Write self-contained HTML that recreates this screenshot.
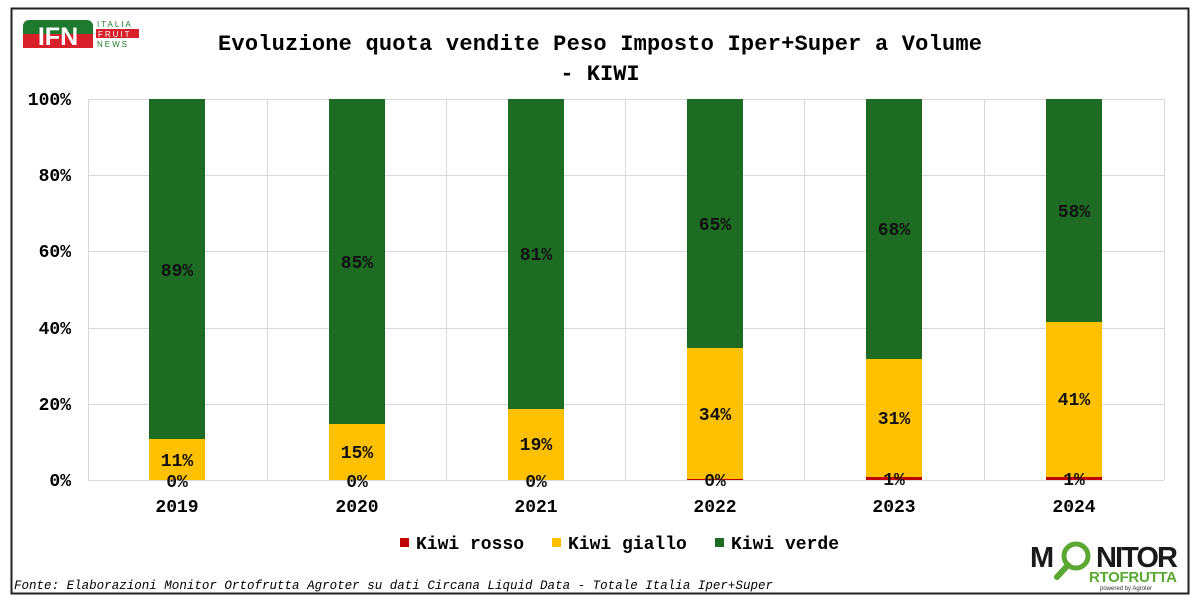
<!DOCTYPE html>
<html><head><meta charset="utf-8"><style>
html,body{margin:0;padding:0;background:#fff;}
svg{display:block;font-family:"Liberation Mono",monospace;}
</style></head><body>
<svg width="1200" height="604" viewBox="0 0 1200 604" xmlns="http://www.w3.org/2000/svg">
<rect x="0" y="0" width="1200" height="604" fill="#fff"/>
<rect x="11.5" y="8.5" width="1177" height="585" fill="none" stroke="#222" stroke-width="2"/>
<!-- IFN logo -->
<rect x="23" y="20" width="70" height="28" rx="6" fill="#1e7a2e"/>
<rect x="23" y="34" width="70" height="14" fill="#d8202a"/>
<text x="58" y="45" font-family="Liberation Sans,sans-serif" font-weight="bold" font-size="25" fill="#fff" text-anchor="middle">IFN</text>
<text x="97" y="27" font-family="Liberation Sans,sans-serif" font-size="8" fill="#1e7a2e" letter-spacing="2">ITALIA</text>
<rect x="96" y="29" width="43" height="9" fill="#d8202a"/>
<text x="98" y="37" font-family="Liberation Sans,sans-serif" font-size="8" fill="#fff" letter-spacing="2">FRUIT</text>
<text x="97" y="47" font-family="Liberation Sans,sans-serif" font-size="8" fill="#1e7a2e" letter-spacing="2">NEWS</text>
<!-- title -->
<text x="600" y="50" font-size="22" font-weight="bold" text-anchor="middle" textLength="764">Evoluzione quota vendite Peso Imposto Iper+Super a Volume</text>
<text x="600" y="80" font-size="22" font-weight="bold" text-anchor="middle">- KIWI</text>
<!-- grid -->
<g stroke="#d9d9d9" stroke-width="1">
<line x1="88" y1="99.5" x2="1164" y2="99.5"/>
<line x1="88" y1="175.5" x2="1164" y2="175.5"/>
<line x1="88" y1="251.5" x2="1164" y2="251.5"/>
<line x1="88" y1="328.5" x2="1164" y2="328.5"/>
<line x1="88" y1="404.5" x2="1164" y2="404.5"/>
<line x1="88" y1="480.5" x2="1164" y2="480.5"/>
<line x1="88.5" y1="99" x2="88.5" y2="480"/>
<line x1="267.5" y1="99" x2="267.5" y2="480"/>
<line x1="446.5" y1="99" x2="446.5" y2="480"/>
<line x1="625.5" y1="99" x2="625.5" y2="480"/>
<line x1="804.5" y1="99" x2="804.5" y2="480"/>
<line x1="984.5" y1="99" x2="984.5" y2="480"/>
<line x1="1164.5" y1="99" x2="1164.5" y2="480"/>
</g>
<!-- y labels -->
<g font-size="18" font-weight="bold" text-anchor="end">
<text x="71" y="105">100%</text>
<text x="71" y="181">80%</text>
<text x="71" y="257">60%</text>
<text x="71" y="334">40%</text>
<text x="71" y="410">20%</text>
<text x="71" y="486">0%</text>
</g>
<!-- bars -->
<g>
<rect x="149" y="99" width="56" height="340" fill="#1e6b23"/><rect x="149" y="439" width="56" height="41" fill="#ffc000"/>
<rect x="329" y="99" width="56" height="325" fill="#1e6b23"/><rect x="329" y="424" width="56" height="56" fill="#ffc000"/>
<rect x="508" y="99" width="56" height="310" fill="#1e6b23"/><rect x="508" y="409" width="56" height="71" fill="#ffc000"/>
<rect x="687" y="99" width="56" height="249" fill="#1e6b23"/><rect x="687" y="348" width="56" height="131" fill="#ffc000"/><rect x="687" y="479" width="56" height="1" fill="#c00000"/>
<rect x="866" y="99" width="56" height="260" fill="#1e6b23"/><rect x="866" y="359" width="56" height="118" fill="#ffc000"/><rect x="866" y="477" width="56" height="3" fill="#c00000"/>
<rect x="1046" y="99" width="56" height="223" fill="#1e6b23"/><rect x="1046" y="322" width="56" height="155" fill="#ffc000"/><rect x="1046" y="477" width="56" height="3" fill="#c00000"/>
</g>
<!-- data labels -->
<g font-size="18" font-weight="bold" text-anchor="middle" fill="#111">
<text x="177" y="276">89%</text><text x="177" y="466">11%</text><text x="177" y="487">0%</text>
<text x="357" y="268">85%</text><text x="357" y="458">15%</text><text x="357" y="487">0%</text>
<text x="536" y="260">81%</text><text x="536" y="450">19%</text><text x="536" y="487">0%</text>
<text x="715" y="230">65%</text><text x="715" y="420">34%</text><text x="715" y="486">0%</text>
<text x="894" y="235">68%</text><text x="894" y="424">31%</text><text x="894" y="485">1%</text>
<text x="1074" y="217">58%</text><text x="1074" y="405">41%</text><text x="1074" y="485">1%</text>
</g>
<!-- x labels -->
<g font-size="18" font-weight="bold" text-anchor="middle">
<text x="177" y="512">2019</text><text x="357" y="512">2020</text><text x="536" y="512">2021</text>
<text x="715" y="512">2022</text><text x="894" y="512">2023</text><text x="1074" y="512">2024</text>
</g>
<!-- legend -->
<rect x="400" y="538" width="9" height="9" fill="#c00000"/>
<text x="416" y="549" font-size="18" font-weight="bold">Kiwi rosso</text>
<rect x="552" y="538" width="9" height="9" fill="#ffc000"/>
<text x="568" y="549" font-size="18" font-weight="bold">Kiwi giallo</text>
<rect x="715" y="538" width="9" height="9" fill="#1e6b23"/>
<text x="731" y="549" font-size="18" font-weight="bold">Kiwi verde</text>
<!-- footer -->
<text x="14" y="589" font-size="12.5" font-style="italic" textLength="759">Fonte: Elaborazioni Monitor Ortofrutta Agroter su dati Circana Liquid Data - Totale Italia Iper+Super</text>
<!-- Monitor logo -->
<text x="1030" y="567" font-family="Liberation Sans,sans-serif" font-weight="bold" font-size="29" fill="#1a1a1a">M</text>
<text x="1096" y="567" font-family="Liberation Sans,sans-serif" font-weight="bold" font-size="29" fill="#1a1a1a" textLength="82">NITOR</text>
<circle cx="1076" cy="556" r="12" fill="none" stroke="#5aa832" stroke-width="5"/>
<line x1="1068" y1="565" x2="1057" y2="577" stroke="#5aa832" stroke-width="6" stroke-linecap="round"/>
<text x="1089" y="582" font-family="Liberation Sans,sans-serif" font-weight="bold" font-size="15" fill="#5aa832" textLength="88">RTOFRUTTA</text>
<text x="1100" y="590" font-family="Liberation Sans,sans-serif" font-size="6" fill="#333">powered by Agroter</text>
</svg>
</body></html>
